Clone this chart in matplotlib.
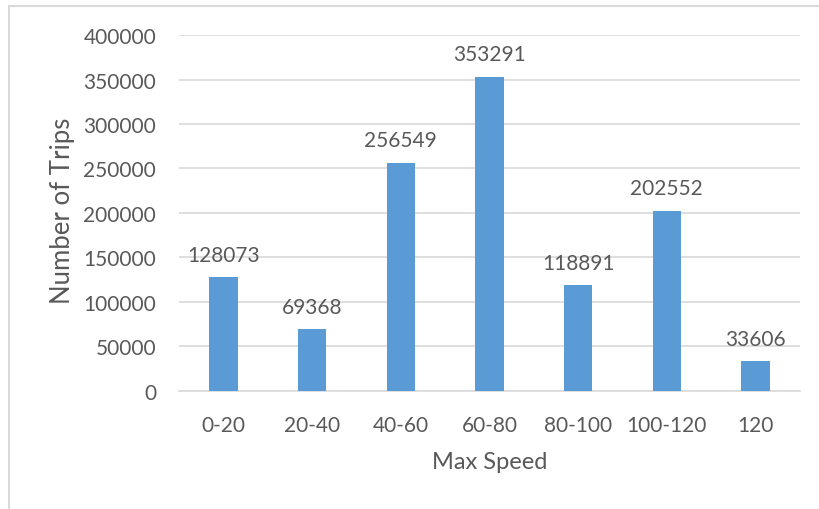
import matplotlib
matplotlib.use("Agg")
from matplotlib import pyplot as plt
from matplotlib.lines import Line2D

speed_bins = ['0-20', '20-40', '40-60', '60-80', '80-100', '100-120', '120']
trip_counts = [128073, 69368, 256549, 353291, 118891, 202552, 33606]
y_ticks = [0, 50000, 100000, 150000, 200000, 250000, 300000, 350000, 400000]

text_color = '#595959'
grid_color = '#D9D9D9'
bar_color = '#5B9BD5'

plt.rcParams['font.family'] = ['Lato', 'DejaVu Sans']
plt.rcParams['font.size'] = 15

fig = plt.figure(figsize=(8.19, 5.10), dpi=100)
ax = fig.add_axes([0.2186, 0.2314, 0.758, 0.698])

x = range(len(speed_bins))
bars = ax.bar(x, trip_counts, width=0.32, color=bar_color, zorder=3)

# value labels above each bar
for rect, val in zip(bars, trip_counts):
    ax.annotate(str(val), (rect.get_x() + rect.get_width() / 2, val),
                xytext=(0, 9), textcoords='offset points',
                ha='center', va='bottom', color=text_color, fontsize=15)

ax.set_xlim(-0.5, len(speed_bins) - 0.5)
ax.set_ylim(0, 400000)
ax.set_yticks(y_ticks)
ax.set_yticklabels([str(t) for t in y_ticks])
ax.set_xticks(list(x))
ax.set_xticklabels(speed_bins)

ax.grid(axis='y', color=grid_color, linewidth=1.2, zorder=0)
for side in ['top', 'right', 'left']:
    ax.spines[side].set_visible(False)
ax.spines['bottom'].set_color(grid_color)
ax.spines['bottom'].set_linewidth(1.2)
ax.tick_params(axis='both', length=0, colors=text_color, labelsize=15)
ax.tick_params(axis='y', pad=16.5)
ax.tick_params(axis='x', pad=17.5)

ax.set_xlabel('Max Speed', color=text_color, fontsize=17)
ax.set_ylabel('Number of Trips', color=text_color, fontsize=18.5)
ax.xaxis.label.set_verticalalignment('center')
ax.yaxis.label.set_verticalalignment('center')
ax.xaxis.set_label_coords(0.5, -0.197)
ax.yaxis.set_label_coords(-0.187, 0.51)

# chart area frame (only top and left edges show)
fig.add_artist(Line2D([9 / 819, 9 / 819], [0, 1 - 7 / 510], transform=fig.transFigure,
                      color=grid_color, linewidth=1.5))
fig.add_artist(Line2D([9 / 819, 1], [1 - 7 / 510, 1 - 7 / 510], transform=fig.transFigure,
                      color=grid_color, linewidth=1.5))

fig.savefig('out.png', dpi=100)
